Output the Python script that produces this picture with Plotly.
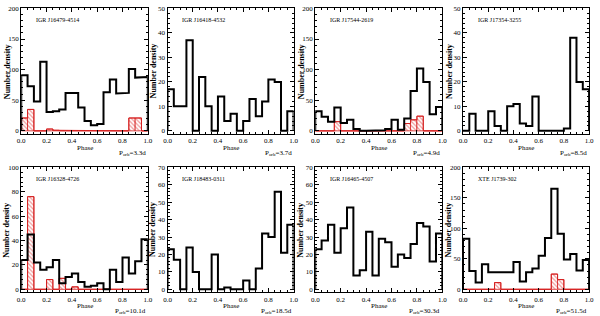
import numpy as np
import plotly.graph_objects as go

W, H = 600, 316
edges = np.round(np.linspace(0, 1, 21), 3)

names = ["IGR J16479-4514", "IGR J16418-4532", "IGR J17544-2619", "IGR J17354-3255",
         "IGR J16328-4726", "IGR J18483-0311", "IGR J16465-4507", "XTE J1739-302"]
periods = ["3.3d", "3.7d", "4.9d", "8.5d", "10.1d", "18.5d", "30.3d", "51.5d"]
ymax = [200, 50, 200, 50, 100, 70, 70, 200]
ydtick = [50, 10, 50, 10, 20, 10, 10, 50]

black_1 = [91, 73, 48, 113, 31, 32, 35, 62, 62, 38, 16, 9, 11, 63, 84, 61, 62, 101, 87, 88]
black_2 = [17, 10, 10, 37, 0, 22, 10, 0, 14, 4, 7, 0, 4, 13, 6, 12, 21, 20, 0, 8]
black_3 = [32, 23, 15, 38, 13, 18, 3, 0, 0, 1, 1, 3, 18, 2, 20, 65, 102, 80, 27, 39]
black_4 = [0, 7, 0, 0, 8, 2, 0, 10, 11, 3, 2, 14, 0, 0, 0, 0, 1, 38, 20, 17]
black_5 = [24, 45, 22, 16, 18, 24, 5, 10, 13, 6, 2, 3, 5, 0, 16, 6, 26, 13, 23, 41]
black_6 = [23, 17, 0, 24, 10, 0, 0, 20, 0, 1, 0, 0, 5, 0, 12, 32, 30, 56, 21, 37]
black_7 = [23, 28, 37, 21, 35, 47, 8, 11, 33, 8, 29, 27, 13, 20, 18, 26, 38, 36, 16, 32]
black_8 = [83, 30, 11, 41, 28, 28, 29, 28, 45, 13, 28, 34, 55, 84, 165, 91, 49, 58, 31, 48]

red_1 = [21, 35, 0, 0, 3, 1, 0, 0, 0, 0, 0, 0, 0, 0, 0, 0, 0, 21, 21, 0]
red_3 = [0, 0, 0, 15, 0, 0, 0, 0, 0, 0, 0, 0, 0, 0, 12, 18, 24, 0, 0, 0]
red_5 = [0, 76, 0, 0, 8, 0, 9, 0, 2, 0, 0, 0, 0, 0, 0, 0, 0, 0, 0, 0]
red_8 = [0, 0, 0, 0, 0, 11, 0, 0, 0, 0, 0, 0, 0, 0, 25, 16, 0, 0, 0, 0]

blacks = [black_1, black_2, black_3, black_4, black_5, black_6, black_7, black_8]
reds = [red_1, None, red_3, None, red_5, None, None, red_8]

# panel boxes in pixels (left, right, top, bottom)
cols_px = [(17.5, 146), (166, 294), (316, 445), (466, 594)]
rows_px = [(4.5, 132), (166, 293)]

FONT = "Liberation Serif"

def step_xy(vals):
    v = np.asarray(vals, dtype=float)
    xs = np.repeat(edges, 2)[1:-1]
    ys = np.repeat(v, 2)
    xs = np.concatenate([[edges[0]], xs, [edges[-1]]])
    ys = np.concatenate([[0], ys, [0]])
    return xs, ys

fig = go.Figure()
annotations = []
centers = (edges[:-1] + edges[1:]) / 2

for i in range(8):
    r, c = divmod(i, 4)
    k = i + 1
    xa = "x" if k == 1 else f"x{k}"
    ya = "y" if k == 1 else f"y{k}"
    xl, xr = cols_px[c]
    yt, yb = rows_px[r]
    dom_x = [xl / W, xr / W]
    dom_y = [1 - yb / H, 1 - yt / H]
    axis_common = dict(showgrid=False, zeroline=False, showline=True, linecolor="black",
                       linewidth=1, mirror="allticks", ticks="inside", ticklen=4,
                       tickcolor="black", tickwidth=1,
                       tickfont=dict(family=FONT, size=7, color="black"))
    fig.update_layout(**{
        ("xaxis" if k == 1 else f"xaxis{k}"): dict(
            domain=dom_x, anchor=ya, range=[0, 1], dtick=0.2, tickformat=".1f",
            minor=dict(ticks="inside", ticklen=2, dtick=0.05, tickcolor="black"),
            **axis_common),
        ("yaxis" if k == 1 else f"yaxis{k}"): dict(
            domain=dom_y, anchor=xa, range=[-0.025 * ymax[i], ymax[i]], dtick=ydtick[i],
            minor=dict(ticks="inside", ticklen=2, dtick=ydtick[i] / 5, tickcolor="black"),
            **axis_common),
    })
    if reds[i] is not None:
        fig.add_trace(go.Bar(
            x=centers, y=reds[i], width=0.05, xaxis=xa, yaxis=ya,
            marker=dict(color="rgba(0,0,0,0)",
                        line=dict(color="#d62020", width=0.8),
                        pattern=dict(shape="\\", fgcolor="#e03030", bgcolor="white",
                                     size=3, solidity=0.4)),
            showlegend=False))
        rx, ry = step_xy(reds[i])
        fig.add_trace(go.Scatter(x=rx, y=ry, mode="lines", xaxis=xa, yaxis=ya,
                                 line=dict(color="#d62020", width=1), showlegend=False))
    bx, by = step_xy(blacks[i])
    fig.add_trace(go.Scatter(x=bx, y=by, mode="lines", xaxis=xa, yaxis=ya,
                             line=dict(color="black", width=2), showlegend=False))
    # name
    annotations.append(dict(text=names[i], xref=f"{xa} domain", yref=f"{ya} domain",
                            x=0.1, y=0.91, xanchor="left", yanchor="middle", showarrow=False,
                            font=dict(family=FONT, size=6, color="black")))
    # y title
    annotations.append(dict(text="<b>Number density</b>", xref="paper", yref=f"{ya} domain",
                            x=(xl - 14.5) / W, y=0.5, textangle=-90, xanchor="center",
                            yanchor="middle", showarrow=False,
                            font=dict(family=FONT, size=8, color="black")))
    # x title
    annotations.append(dict(text="Phase", xref=f"{xa} domain", yref="paper",
                            x=0.5, y=1 - (yb + 14) / H, xanchor="center", yanchor="middle",
                            showarrow=False, font=dict(family=FONT, size=7, color="black")))
    # period
    annotations.append(dict(text=f"P<sub>orb</sub>={periods[i]}", xref=f"{xa} domain",
                            yref="paper", x=1.0, y=1 - (yb + 19) / H, xanchor="right",
                            yanchor="middle", showarrow=False,
                            font=dict(family=FONT, size=7, color="black")))

fig.update_layout(width=W, height=H, margin=dict(l=0, r=0, t=0, b=0),
                  paper_bgcolor="white", plot_bgcolor="white", barmode="overlay",
                  annotations=annotations, showlegend=False)
fig.write_html("out.html", config={"displayModeBar": False},
               post_script="document.body.style.margin='0';document.body.style.padding='0';document.body.style.overflow='hidden';")
